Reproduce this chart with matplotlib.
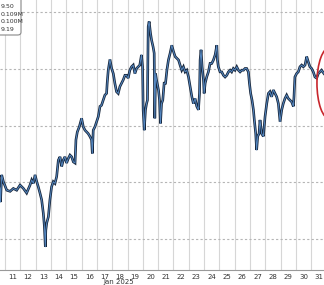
import matplotlib
matplotlib.use("Agg")
import matplotlib.pyplot as plt
from matplotlib.patches import Ellipse, FancyBboxPatch

# Time in days of January 2025 (fractional), price
days = [10.67, 10.70, 10.78, 10.89, 11.11, 11.33, 11.54, 11.76, 11.98, 12.20, 12.41, 12.63, 12.74, 12.85, 12.96,
        13.07, 13.17, 13.28, 13.39, 13.50, 13.57, 13.63, 13.66, 13.72, 13.83, 13.93, 14.04, 14.15, 14.26, 14.37,
        14.48, 14.59, 14.70, 14.80, 14.91, 15.02, 15.13, 15.24, 15.35, 15.46, 15.57, 15.63, 15.72, 15.85, 16.00,
        16.11, 16.22, 16.33, 16.43, 16.54, 16.65, 16.70, 16.76, 16.87, 16.98, 17.09, 17.20, 17.30, 17.41, 17.52,
        17.63, 17.67, 17.74, 17.85, 17.96, 18.07, 18.17, 18.28, 18.39, 18.50, 18.61, 18.72, 18.83, 18.93, 19.04,
        19.15, 19.26, 19.37, 19.48, 19.59, 19.70, 19.80, 19.91, 19.98, 20.02, 20.09, 20.17, 20.24, 20.30, 20.35,
        20.41, 20.50, 20.57, 20.67, 20.74, 20.78, 20.83, 20.89, 21.02, 21.09, 21.15, 21.22, 21.30, 21.39, 21.48,
        21.57, 21.67, 21.78, 21.89, 22.00, 22.11, 22.22, 22.33, 22.43, 22.54, 22.65, 22.76, 22.87, 22.98, 23.09,
        23.20, 23.30, 23.41, 23.52, 23.63, 23.70, 23.74, 23.80, 23.87, 23.96, 24.00, 24.07, 24.17, 24.28, 24.39,
        24.50, 24.61, 24.72, 24.83, 24.87, 24.93, 25.04, 25.15, 25.26, 25.37, 25.48, 25.59, 25.70, 25.80, 25.91,
        26.02, 26.13, 26.24, 26.35, 26.46, 26.57, 26.67, 26.78, 26.89, 26.96, 27.04, 27.13, 27.22, 27.28, 27.37,
        27.43, 27.50, 27.59, 27.65, 27.76, 27.87, 27.98, 28.09, 28.20, 28.30, 28.41, 28.52, 28.63, 28.74, 28.85,
        28.96, 29.07, 29.17, 29.28, 29.39, 29.50, 29.61, 29.72, 29.83, 29.87, 29.93, 30.04, 30.15, 30.26, 30.37,
        30.48, 30.59, 30.70, 30.80, 30.91, 31.02, 31.13, 31.24, 31.35, 31.46, 31.57, 31.67, 31.83]
price = [9.290, 9.265, 9.313, 9.301, 9.286, 9.284, 9.289, 9.286, 9.295, 9.289, 9.281, 9.295, 9.304, 9.298, 9.313,
         9.301, 9.292, 9.281, 9.269, 9.245, 9.222, 9.186, 9.215, 9.228, 9.239, 9.269, 9.292, 9.301, 9.298, 9.310,
         9.339, 9.345, 9.328, 9.339, 9.345, 9.334, 9.342, 9.348, 9.345, 9.336, 9.334, 9.375, 9.389, 9.398, 9.413,
         9.398, 9.392, 9.389, 9.386, 9.381, 9.375, 9.351, 9.392, 9.398, 9.407, 9.416, 9.434, 9.436, 9.445, 9.454,
         9.457, 9.475, 9.498, 9.517, 9.501, 9.492, 9.475, 9.460, 9.457, 9.469, 9.475, 9.481, 9.489, 9.489, 9.484,
         9.498, 9.504, 9.507, 9.492, 9.501, 9.504, 9.507, 9.525, 9.504, 9.428, 9.392, 9.428, 9.439, 9.445, 9.575,
         9.584, 9.563, 9.551, 9.539, 9.528, 9.413, 9.492, 9.481, 9.463, 9.445, 9.404, 9.439, 9.445, 9.475, 9.475,
         9.498, 9.516, 9.528, 9.542, 9.531, 9.522, 9.519, 9.516, 9.507, 9.498, 9.504, 9.495, 9.498, 9.486, 9.469,
         9.451, 9.439, 9.448, 9.434, 9.428, 9.457, 9.516, 9.534, 9.504, 9.481, 9.457, 9.475, 9.486, 9.495, 9.510,
         9.510, 9.516, 9.525, 9.542, 9.516, 9.504, 9.495, 9.495, 9.489, 9.486, 9.489, 9.495, 9.498, 9.495, 9.501,
         9.498, 9.504, 9.498, 9.495, 9.498, 9.498, 9.501, 9.501, 9.495, 9.475, 9.457, 9.445, 9.428, 9.410, 9.386,
         9.357, 9.381, 9.386, 9.410, 9.386, 9.381, 9.416, 9.439, 9.457, 9.460, 9.451, 9.463, 9.457, 9.451, 9.439,
         9.407, 9.428, 9.439, 9.448, 9.454, 9.448, 9.445, 9.442, 9.434, 9.451, 9.486, 9.492, 9.495, 9.504, 9.507,
         9.504, 9.507, 9.522, 9.513, 9.504, 9.501, 9.495, 9.486, 9.484, 9.492, 9.495, 9.498, 9.492]

tick_days = list(range(11, 32))
tick_labels = [str(d) for d in tick_days]
price_grid = [9.2, 9.3, 9.4, 9.5, 9.6]
legend_lines = ["9.50", "0.109M", "0.100M", "9.19"]

fig = plt.figure(figsize=(3.24, 2.85), dpi=100)
ax = fig.add_axes([0, 15 / 285, 1, 270 / 285])
ax.set_xlim(10.67, 31.83)
ax.set_ylim(9.145, 9.622)

for d in tick_days:
    ax.axvline(d, color="#d6d6d6", lw=0.8, zorder=0)
for p in price_grid:
    ax.axhline(p, color="#b5b5b5", lw=0.8, ls=(0, (2, 2)), zorder=0)

ax.plot(days, price, color="#17263b", lw=1.9, zorder=2, solid_joinstyle="miter")
ax.plot(days, price, color="#5588c2", lw=0.7, zorder=3)

ax.add_patch(Ellipse((32.22, 9.475), 1.70, 0.127, fill=False, edgecolor="#c8262c",
                     lw=1.2, clip_on=False, zorder=4))

for s in ["top", "left", "right"]:
    ax.spines[s].set_visible(False)
ax.spines["bottom"].set_color("#999999")
ax.spines["bottom"].set_linewidth(0.8)
ax.set_yticks([])
ax.set_xticks([d + 0.5 for d in tick_days])
ax.set_xticklabels(tick_labels, fontsize=5, color="#333333")
ax.tick_params(axis="x", length=0, pad=3)

fig.text(119 / 324, 1 - 282 / 285, "Jan 2025", fontsize=5, color="#333333", ha="center", va="center")

fig.patches.append(FancyBboxPatch((-10 / 324, 1 - 35 / 285), 31 / 324, 45 / 285,
                                  boxstyle="round,pad=0,rounding_size=0.01",
                                  transform=fig.transFigure, facecolor="white",
                                  edgecolor="#888888", lw=0.8, zorder=5))
for i, t in enumerate(legend_lines):
    fig.text(1 / 324, 1 - (7 + 7.4 * i) / 285, t, fontsize=4.5, color="#333333",
             ha="left", va="center", zorder=6)

fig.savefig("out.png", dpi=100)
